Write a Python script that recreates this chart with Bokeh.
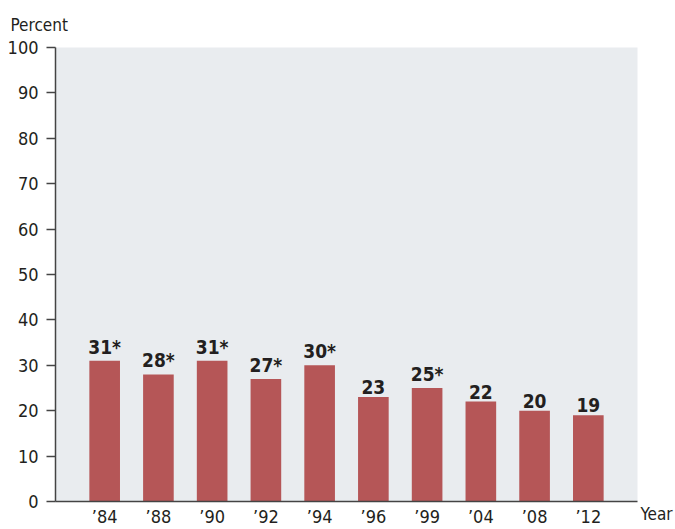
from bokeh.plotting import figure
from bokeh.models import FactorRange, Range1d, FixedTicker, ColumnDataSource, LinearAxis
from bokeh.core.properties import value
from bokeh.embed import file_html
from bokeh.resources import INLINE

years = ["\u201984", "\u201988", "\u201990", "\u201992", "\u201994", "\u201996", "\u201999", "\u201904", "\u201908", "\u201912"]
percents = [31, 28, 31, 27, 30, 23, 25, 22, 20, 19]
significant = [True, True, True, True, True, False, True, False, False, False]
y_ticks = [0, 10, 20, 30, 40, 50, 60, 70, 80, 90, 100]

FONT = "DejaVu Sans Condensed"
TXT = "#231f20"
AX = "#444444"

labels = [f"{v}*" if s else f"{v}" for v, s in zip(percents, significant)]
src = ColumnDataSource(data=dict(year=years, pct=percents, label=labels))

p = figure(
    x_range=FactorRange(factors=years, range_padding=0.083),
    y_range=Range1d(0, 100),
    width=675, height=529,
    output_backend="svg", toolbar_location=None,
    min_border_left=55, min_border_right=35, min_border_top=47, min_border_bottom=27,
)
p.title.text = "Percent"
p.title.align = "left"
p.title.offset = -45
p.title.standoff = 25
p.title.text_font = FONT
p.title.text_font_size = "17px"
p.title.text_font_style = "normal"
p.title.text_color = TXT
p.background_fill_color = "#e9ecef"
p.border_fill_color = "white"
p.outline_line_color = None
p.xgrid.visible = False
p.ygrid.visible = False

p.vbar(x="year", top="pct", width=0.57, source=src, fill_color="#b55657", line_color=None)
p.text(x="year", y="pct", text="label", source=src, text_align="center", text_baseline="bottom",
       y_offset=-3, text_font=value(FONT), text_font_style="bold", text_font_size="19px", text_color=TXT)

p.yaxis.ticker = FixedTicker(ticks=y_ticks)
p.yaxis.axis_line_color = AX
p.yaxis.axis_line_width = 1.5
p.yaxis.major_tick_line_color = AX
p.yaxis.major_tick_line_width = 1.5
p.yaxis.major_tick_out = 9
p.yaxis.major_tick_in = 0
p.yaxis.minor_tick_line_color = None
p.yaxis.major_label_standoff = 8
p.yaxis.major_label_text_font = FONT
p.yaxis.major_label_text_font_size = "18px"
p.yaxis.major_label_text_color = TXT

p.xaxis.axis_line_color = AX
p.xaxis.axis_line_width = 1.5
p.xaxis.major_tick_line_color = None
p.xaxis.major_tick_out = 0
p.xaxis.major_tick_in = 0
p.xaxis.minor_tick_line_color = None
p.xaxis.major_label_standoff = 4
p.xaxis.major_label_text_font = FONT
p.xaxis.major_label_text_font_size = "18px"
p.xaxis.major_label_text_color = TXT

# "Year" label: a right-hand axis carrying a single tick label at the baseline
p.extra_y_ranges = {"yr": Range1d(0, 100)}
year_axis = LinearAxis(
    y_range_name="yr", ticker=FixedTicker(ticks=[0]), major_label_overrides={0: "\nYear"},
    axis_line_color=None, major_tick_line_color=None, minor_tick_line_color=None,
    major_tick_out=0, major_tick_in=0,
    major_label_standoff=3, major_label_orientation="horizontal",
    major_label_text_font=FONT,
    major_label_text_font_size="17px", major_label_text_color=TXT,
)
p.add_layout(year_axis, "right")

open("out.html", "w").write(file_html(p, INLINE))
